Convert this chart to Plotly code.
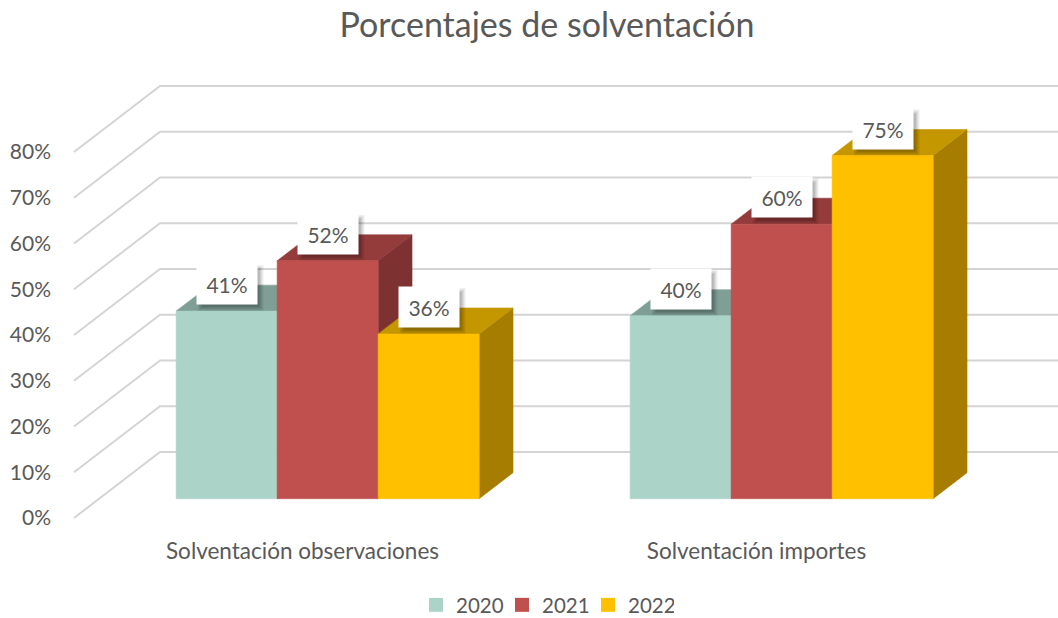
import plotly.graph_objects as go

# ---------------- data ----------------
categories = ["Solventación observaciones", "Solventación importes"]
years = ["2020", "2021", "2022"]
values_2020 = [41, 40]
values_2021 = [52, 60]
values_2022 = [36, 75]
y_ticks = [0, 10, 20, 30, 40, 50, 60, 70, 80]
y_tick_labels = ["0%", "10%", "20%", "30%", "40%", "50%", "60%", "70%", "80%"]
title_text = "Porcentajes de solventación"

# ---------------- styles ----------------
front_colors = ["#ABD3C8", "#C0504D", "#FFC000"]
top_colors = ["#7F9F96", "#943B3B", "#C49600"]
side_colors = ["#6E8C83", "#7E3131", "#A67D00"]
TEXT = "#595959"
FONT = "Lato"
GRID = "#D4D4D4"

W, H = 1058, 618
K = 4.575                 # px per percent
PLOT_L, PLOT_R, PLOT_T, PLOT_B = 64, 1058, 70, 528   # plot area in page px
M_L, M_R, M_T, M_B = PLOT_L, W - PLOT_R, PLOT_T, H - PLOT_B
FRONT_ZERO_PX = 518       # page row of 0% on the front plane
WALL_X = 74               # front edge of side wall (axis units = page px)
WALL_DX = 86              # depth shift in x (px)
WALL_DY = 66 / K          # depth shift in y (percent units)
D0 = 19.3 / 66            # bar front depth fraction
D1 = 45.3 / 66            # bar back depth fraction
X_START = 302.5           # first category centre (front plane)
PITCH = 454               # category spacing
BAR_W = 101
X_MIN, X_MAX = PLOT_L, PLOT_R

y_lo = (FRONT_ZERO_PX - PLOT_B) / K
y_hi = (FRONT_ZERO_PX - PLOT_T) / K


def proj(x, v, d):
    return x + d * WALL_DX, v + d * WALL_DY


fig = go.Figure()

# gridlines: side wall diagonal + back wall horizontal
gx, gy = [], []
for v in y_ticks:
    x0, y0 = proj(WALL_X, v, 0)
    x1, y1 = proj(WALL_X, v, 1)
    gx += [x0, x1, X_MAX, None]
    gy += [y0, y1, y1, None]
fig.add_trace(go.Scatter(x=gx, y=gy, mode="lines", line=dict(color=GRID, width=2),
                         hoverinfo="skip", showlegend=False))

series_values = [values_2020, values_2021, values_2022]


def poly(pts, color):
    xs = [p[0] for p in pts] + [pts[0][0]]
    ys = [p[1] for p in pts] + [pts[0][1]]
    fig.add_trace(go.Scatter(x=xs, y=ys, mode="lines", fill="toself", fillcolor=color,
                             line=dict(color=color, width=0.6), hoverinfo="skip",
                             showlegend=False))


label_points = []
for i, cat in enumerate(categories):
    cx = X_START + i * PITCH
    for j, vals in enumerate(series_values):
        v = vals[i]
        xl = cx - 1.5 * BAR_W + j * BAR_W
        xr = xl + BAR_W
        side = [proj(xr, 0, D0), proj(xr, 0, D1), proj(xr, v, D1), proj(xr, v, D0)]
        top = [proj(xl, v, D0), proj(xr, v, D0), proj(xr, v, D1), proj(xl, v, D1)]
        front = [proj(xl, 0, D0), proj(xr, 0, D0), proj(xr, v, D0), proj(xl, v, D0)]
        poly(side, side_colors[j])
        poly(top, top_colors[j])
        poly(front, front_colors[j])
        label_points.append((proj((xl + xr) / 2, v, D0), f"{v}%"))

# legend-only entries
for j, yr in enumerate(years):
    fig.add_trace(go.Scatter(x=[None], y=[None], mode="markers", name=yr,
                             marker=dict(symbol="square", size=14, color=front_colors[j],
                                         line=dict(width=0))))

# data labels with soft shadow
LBL_W, LBL_H, LBL_UP = 58, 38, 27
shapes = []
annotations = []
for (px, py), txt in label_points:
    for k, a in [(4, 0.05), (3, 0.05), (2, 0.06), (1, 0.07), (0, 0.08)]:
        shapes.append(dict(type="rect", xref="x", yref="y", xsizemode="pixel", ysizemode="pixel",
                           xanchor=px, yanchor=py,
                           x0=-LBL_W / 2 + 4 - k, x1=LBL_W / 2 + 4 + k,
                           y0=LBL_UP - LBL_H / 2 - 4 - k, y1=LBL_UP + LBL_H / 2 - 4 + k,
                           line=dict(width=0), fillcolor=f"rgba(0,0,0,{a})", layer="above"))
    annotations.append(dict(x=px, y=py, xref="x", yref="y", text=txt, showarrow=False,
                            yshift=LBL_UP, width=LBL_W, height=LBL_H, bgcolor="white",
                            font=dict(family=FONT, size=21, color=TEXT)))

fig.update_layout(
    width=W, height=H,
    margin=dict(l=M_L, r=M_R, t=M_T, b=M_B, autoexpand=False),
    paper_bgcolor="white", plot_bgcolor="white",
    title=dict(text=title_text, xref="container", yref="container",
               x=547 / W, y=1 - 25 / H, xanchor="center", yanchor="middle",
               font=dict(family=FONT, size=34, color=TEXT)),
    legend=dict(orientation="h", xref="container", yref="container",
                x=545 / W, y=1 - 605 / H, xanchor="center", yanchor="middle",
                entrywidth=41, entrywidthmode="pixels",
                font=dict(family=FONT, size=20.5, color=TEXT), itemclick=False),
    shapes=shapes, annotations=annotations,
    xaxis=dict(range=[X_MIN, X_MAX], showgrid=False, zeroline=False, showline=False,
               tickvals=[X_START + i * PITCH for i in range(len(categories))],
               ticktext=categories, ticks="", ticklabelstandoff=7,
               tickfont=dict(family=FONT, size=22.5, color=TEXT), fixedrange=True),
    yaxis=dict(range=[y_lo, y_hi], showgrid=False, zeroline=False, showline=False,
               tickvals=y_ticks, ticktext=y_tick_labels, ticks="", ticklabelstandoff=12,
               tickfont=dict(family=FONT, size=21, color=TEXT), fixedrange=True),
    font=dict(family=FONT, color=TEXT),
)

fig.write_html("out.html", config={"displayModeBar": False},
               post_script="document.body.style.margin='0px';")
